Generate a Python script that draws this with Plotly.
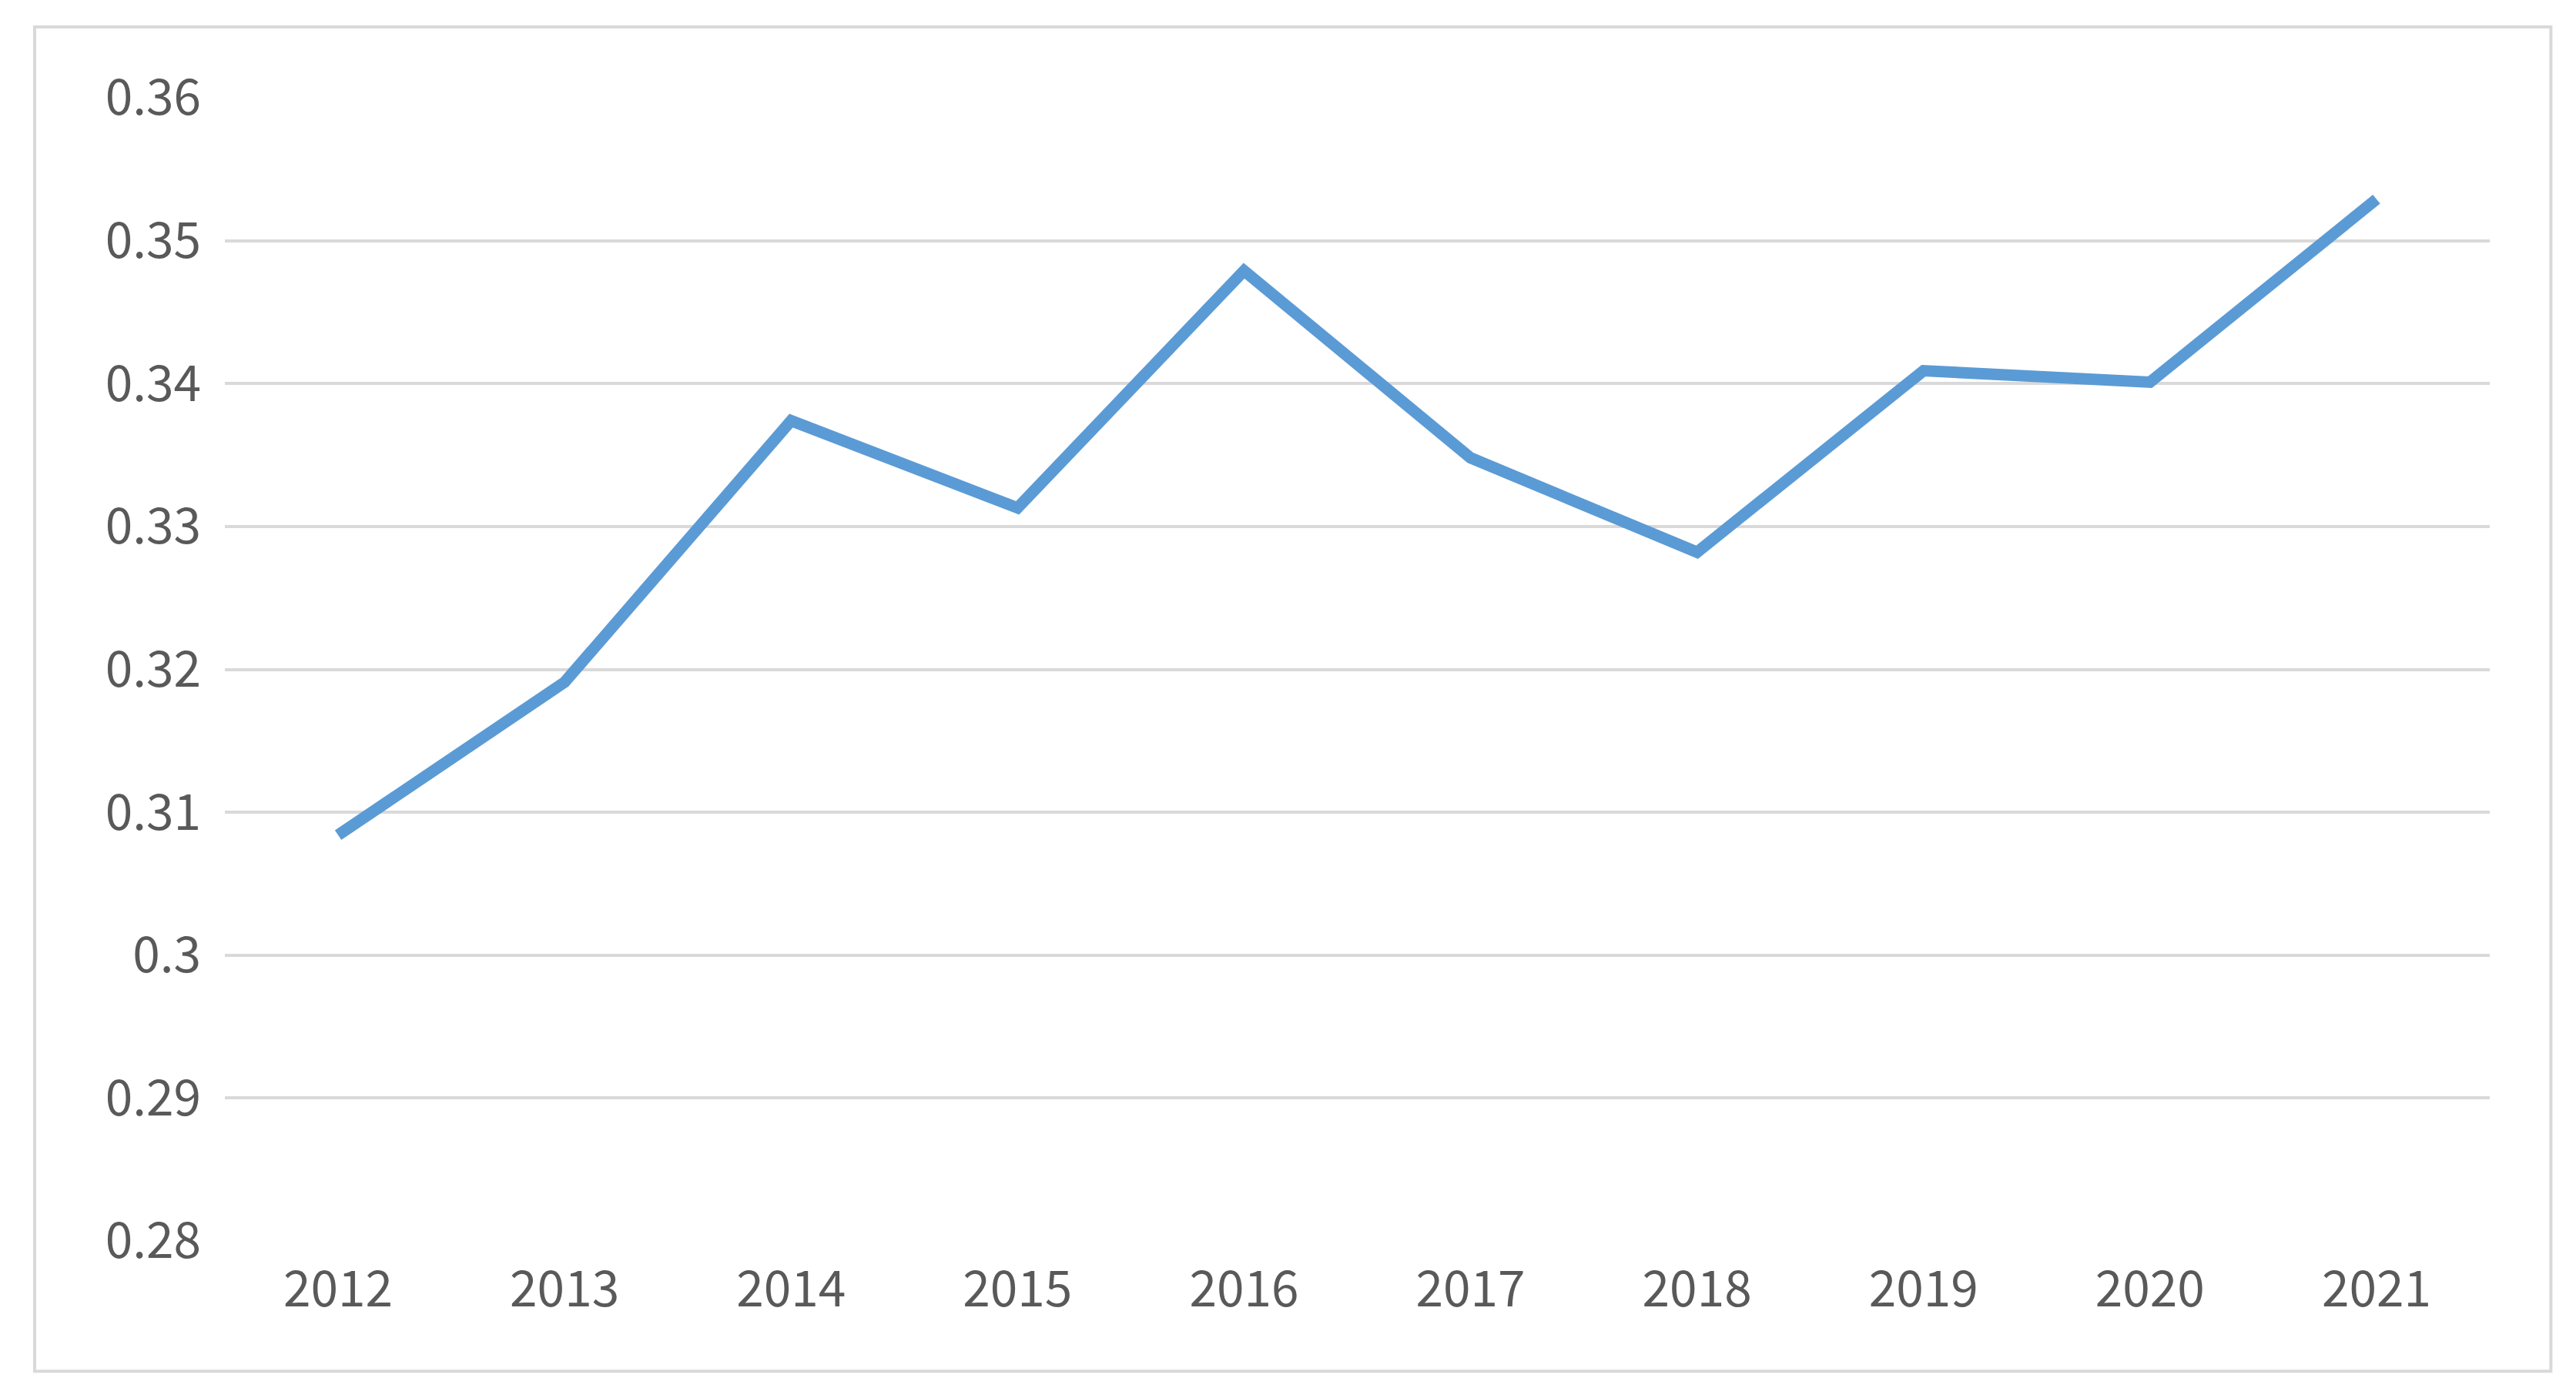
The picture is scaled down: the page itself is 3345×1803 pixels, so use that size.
import plotly.graph_objects as go

years = ["2012", "2013", "2014", "2015", "2016", "2017", "2018", "2019", "2020", "2021"]
values = [0.3084, 0.3191, 0.3374, 0.3313, 0.3479, 0.3348, 0.3282, 0.3409, 0.3401, 0.3529]
y_ticks = [0.28, 0.29, 0.30, 0.31, 0.32, 0.33, 0.34, 0.35, 0.36]
y_labels = ["0.28", "0.29", "0.3", "0.31", "0.32", "0.33", "0.34", "0.35", "0.36"]

fig = go.Figure()
fig.add_trace(go.Scatter(
    x=list(range(len(years))), y=values, mode="lines",
    line=dict(color="#5B9BD5", width=15, shape="linear"),
    showlegend=False
))

# outer chart border
fig.add_shape(type="rect", xref="paper", yref="paper",
              x0=-0.084, x1=1.027, y0=-0.114, y1=1.062,
              line=dict(color="#D9D9D9", width=4))

tick_font = dict(family="Noto Sans CJK SC", size=64, color="#595959")
fig.update_layout(
    width=3345, height=1803,
    margin=dict(l=284, r=120, t=119, b=199),
    paper_bgcolor="white", plot_bgcolor="white",
    xaxis=dict(
        tickmode="array", tickvals=list(range(len(years))), ticktext=years,
        range=[-0.5, 9.5], showgrid=False, zeroline=False,
        showline=False, tickfont=tick_font, ticks="", ticklabelstandoff=20
    ),
    yaxis=dict(
        tickmode="array", tickvals=y_ticks, ticktext=y_labels,
        range=[0.28, 0.36], showgrid=True, gridcolor="#D9D9D9", gridwidth=4,
        zeroline=False, showline=False, tickfont=tick_font, ticks="",
        ticklabelstandoff=30
    ),
)

fig.write_html("out.html")
